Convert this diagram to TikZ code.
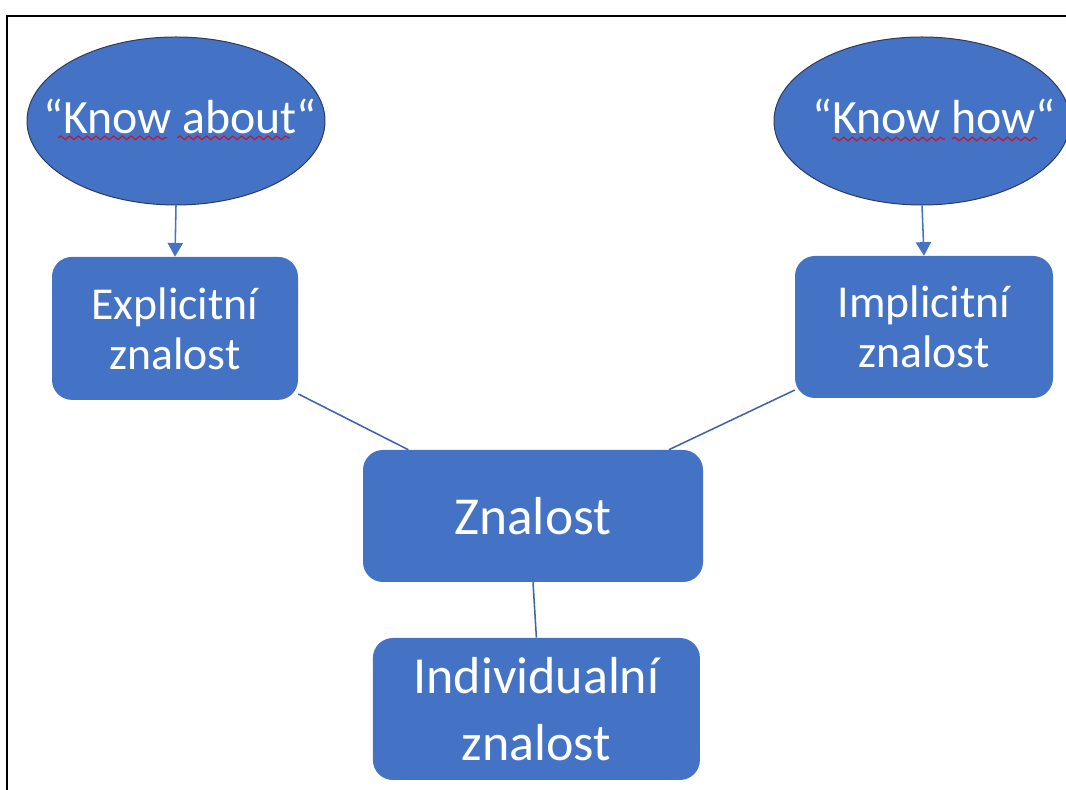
\documentclass[tikz,border=0pt]{standalone}
\usepackage{fontspec}
\setmainfont{Carlito}
\usepackage{tikz}
\usetikzlibrary{calc,positioning,shapes.geometric,arrows.meta,decorations.pathmorphing}
\usepackage{xcolor}

\definecolor{officeblue}{RGB}{68,114,196}
\definecolor{ellline}{RGB}{45,58,92}
\definecolor{linkblue}{RGB}{64,100,170}
\definecolor{spellred}{RGB}{200,20,40}

\tikzset{
  kbox/.style={rectangle, rounded corners=0.5cm, fill=officeblue, text=white,
    align=center, inner sep=0pt},
  kell/.style={ellipse, fill=officeblue, draw=ellline, line width=0.7pt,
    inner sep=0pt},
  ktext/.style={text=white, font=\fontsize{34}{40}\selectfont, yshift=0.12cm},
  link/.style={draw=linkblue, line width=1.1pt},
  arr/.style={draw=officeblue, line width=1.1pt,
    -{Triangle[width=0.38cm,length=0.34cm]}},
  squig/.style={draw=spellred, line width=0.8pt,
    decorate, decoration={snake, amplitude=0.045cm, segment length=0.22cm}},
}

\begin{document}
\begin{tikzpicture}
            \useasboundingbox (0,0) rectangle (26.65,19.75);
            % Frame (cut off at right and bottom)
            \draw[line width=1.5pt] (0.175,0) |- (26.65,19.35);

            % Ellipses on top
            \node[kell, minimum width=7.45cm, minimum height=4.2cm,
                  label={[ktext, xshift=0.1cm]center:“Know about“}] (about) at (4.4,16.725) {};
            \node[kell, minimum width=7.4cm, minimum height=4.2cm,
                  label={[ktext, xshift=0.3cm]center:“Know how“}] (how) at (23.05,16.725) {};

            % Boxes
            \node[kbox, minimum width=6.15cm, minimum height=3.575cm,
                  font=\fontsize{32.5}{35.5}\selectfont] (expl) at (4.375,11.54)
                {Explicitní\\znalost};
            \node[kbox, minimum width=6.45cm, minimum height=3.55cm,
                  font=\fontsize{32.5}{35.5}\selectfont] (impl) at (23.1,11.575)
                {Implicitní\\znalost};
            \node[kbox, minimum width=8.5cm, minimum height=3.3cm,
                  font=\fontsize{38}{46}\selectfont] (zn) at (13.325,6.85)
                {Znalost};
            \node[kbox, minimum width=8.175cm, minimum height=3.55cm,
                  font=\fontsize{37}{48}\selectfont] (ind) at (13.41,2.025)
                {Individualní\\znalost};

            % Spell-check underlines
            \draw[squig] ($(about.center)+(-2.95,-0.42)$) -- ($(about.center)+(-0.22,-0.42)$);
            \draw[squig] ($(about.center)+(0.03,-0.42)$) -- ($(about.center)+(2.85,-0.42)$);
            \draw[squig] ($(how.center)+(-2.25,-0.45)$) -- ($(how.center)+(0.57,-0.45)$);
            \draw[squig] ($(how.center)+(0.75,-0.45)$) -- ($(how.center)+(2.87,-0.45)$);

            % Connectors
            \draw[arr] (about.south) -- (expl.north);
            \draw[arr] (how.south) -- (impl.north);
            \draw[link] (expl.-28) -- (zn.152);
            \draw[link] (impl.206) -- (zn.26);
            \draw[link] (zn.south) -- (ind.north);
        \end{tikzpicture}
\end{document}
